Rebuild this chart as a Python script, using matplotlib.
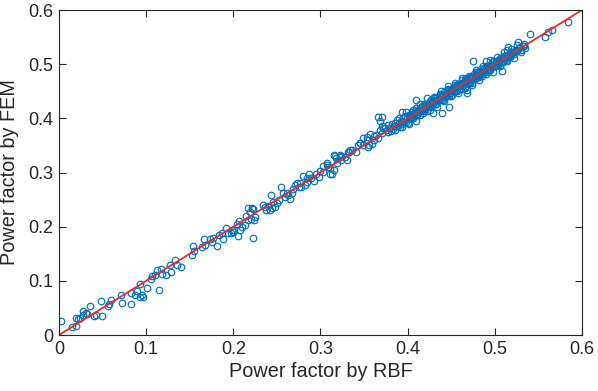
import matplotlib
matplotlib.use("Agg")
import matplotlib.pyplot as plt
import numpy as np

# power factor pairs (RBF estimate, FEM result)
rbf_low = [0.002, 0.0145, 0.0195, 0.0195, 0.022, 0.024, 0.028, 0.028, 0.031, 0.032,
           0.035, 0.040, 0.042, 0.048, 0.049, 0.056, 0.057, 0.060, 0.071, 0.072,
           0.083, 0.083, 0.087, 0.089, 0.093, 0.093, 0.095, 0.096, 0.101, 0.106,
           0.107, 0.110, 0.112, 0.117, 0.118, 0.115]
fem_low = [0.025, 0.015, 0.016, 0.031, 0.029, 0.031, 0.045, 0.037, 0.040, 0.039,
           0.054, 0.035, 0.037, 0.063, 0.036, 0.054, 0.057, 0.065, 0.074, 0.060,
           0.058, 0.077, 0.074, 0.082, 0.094, 0.071, 0.073, 0.070, 0.087, 0.103,
           0.109, 0.111, 0.120, 0.121, 0.113, 0.084]

rbf_mid = [0.123, 0.127, 0.129, 0.133, 0.135, 0.140, 0.152, 0.154, 0.155, 0.164,
           0.166, 0.168, 0.173, 0.175, 0.177, 0.181, 0.183, 0.187, 0.188, 0.192,
           0.194, 0.197, 0.201, 0.204, 0.205, 0.206, 0.208, 0.215, 0.217, 0.219,
           0.198, 0.200, 0.210, 0.213, 0.217, 0.220, 0.221, 0.222, 0.224, 0.225,
           0.223, 0.234, 0.236, 0.237, 0.240, 0.242, 0.244, 0.246, 0.248, 0.250,
           0.243, 0.252, 0.255, 0.257, 0.259, 0.261, 0.263, 0.265, 0.267, 0.269,
           0.271, 0.273, 0.275, 0.277, 0.278, 0.280, 0.282, 0.284, 0.285, 0.287,
           0.289, 0.292, 0.295, 0.298, 0.300, 0.303, 0.307, 0.311, 0.313, 0.315,
           0.319, 0.322, 0.303, 0.309, 0.311, 0.307]
fem_mid = [0.111, 0.129, 0.117, 0.138, 0.129, 0.126, 0.148, 0.164, 0.155, 0.163,
           0.178, 0.166, 0.178, 0.172, 0.180, 0.164, 0.185, 0.188, 0.178, 0.197,
           0.189, 0.188, 0.194, 0.205, 0.183, 0.211, 0.194, 0.220, 0.212, 0.228,
           0.194, 0.191, 0.199, 0.203, 0.234, 0.215, 0.234, 0.232, 0.212, 0.218,
           0.180, 0.240, 0.237, 0.231, 0.238, 0.231, 0.234, 0.246, 0.236, 0.243,
           0.258, 0.250, 0.273, 0.262, 0.255, 0.262, 0.258, 0.252, 0.262, 0.269,
           0.277, 0.281, 0.273, 0.280, 0.274, 0.294, 0.277, 0.290, 0.283, 0.297,
           0.289, 0.285, 0.298, 0.292, 0.303, 0.312, 0.314, 0.308, 0.298, 0.305,
           0.317, 0.329, 0.301, 0.311, 0.298, 0.317]

rbf_upper = [0.315, 0.318, 0.322, 0.324, 0.328, 0.330, 0.332, 0.333, 0.336, 0.341,
             0.343, 0.345, 0.349, 0.349, 0.353, 0.353, 0.355, 0.356, 0.357, 0.359,
             0.361, 0.361, 0.364, 0.366, 0.366, 0.368, 0.368, 0.370, 0.370, 0.372,
             0.374, 0.376, 0.378, 0.378, 0.317, 0.324, 0.334, 0.345, 0.370]
fem_upper = [0.332, 0.326, 0.332, 0.323, 0.329, 0.323, 0.338, 0.338, 0.342, 0.338,
             0.351, 0.354, 0.351, 0.363, 0.366, 0.360, 0.348, 0.351, 0.372, 0.353,
             0.360, 0.367, 0.369, 0.363, 0.403, 0.396, 0.378, 0.385, 0.373, 0.382,
             0.382, 0.378, 0.388, 0.375, 0.330, 0.330, 0.342, 0.355, 0.403]

rbf_dense = [0.380, 0.381, 0.382, 0.383, 0.384, 0.385, 0.386, 0.387, 0.388, 0.389,
             0.390, 0.391, 0.392, 0.393, 0.394, 0.395, 0.396, 0.397, 0.398, 0.399,
             0.400, 0.401, 0.402, 0.403, 0.404, 0.405, 0.406, 0.407, 0.408, 0.409,
             0.410, 0.411, 0.412, 0.413, 0.414, 0.415, 0.416, 0.417, 0.418, 0.419,
             0.420, 0.421, 0.422, 0.423, 0.424, 0.425, 0.426, 0.427, 0.428, 0.429,
             0.430, 0.431, 0.432, 0.433, 0.434, 0.435, 0.436, 0.437, 0.438, 0.439,
             0.440, 0.441, 0.442, 0.443, 0.444, 0.445, 0.446, 0.447, 0.448, 0.449,
             0.450, 0.451, 0.452, 0.453, 0.454, 0.455, 0.456, 0.457, 0.458, 0.459,
             0.460, 0.461, 0.462, 0.463, 0.464, 0.465, 0.466, 0.467, 0.468, 0.469,
             0.470, 0.471, 0.472, 0.473, 0.474, 0.475, 0.476, 0.477, 0.478, 0.479,
             0.480, 0.481, 0.482, 0.483, 0.484, 0.485, 0.486, 0.487, 0.488, 0.489,
             0.490, 0.491, 0.492, 0.493, 0.494, 0.495, 0.496, 0.497, 0.498, 0.499,
             0.500, 0.501, 0.502, 0.503, 0.504, 0.505, 0.506, 0.507, 0.508, 0.509,
             0.510, 0.511, 0.512, 0.513, 0.514, 0.515, 0.516, 0.517, 0.518, 0.519,
             0.520, 0.522, 0.524, 0.526, 0.528, 0.530, 0.532, 0.534]
fem_dense = [0.383, 0.377, 0.389, 0.381, 0.385, 0.379, 0.391, 0.386, 0.397, 0.386,
             0.392, 0.384, 0.396, 0.393, 0.389, 0.401, 0.394, 0.405, 0.394, 0.400,
             0.392, 0.404, 0.407, 0.400, 0.403, 0.412, 0.400, 0.409, 0.412, 0.407,
             0.420, 0.406, 0.412, 0.416, 0.407, 0.421, 0.415, 0.419, 0.414, 0.427,
             0.417, 0.426, 0.413, 0.424, 0.428, 0.423, 0.432, 0.422, 0.431, 0.428,
             0.437, 0.427, 0.434, 0.427, 0.439, 0.435, 0.433, 0.445, 0.436, 0.443,
             0.433, 0.442, 0.448, 0.439, 0.447, 0.444, 0.455, 0.442, 0.450, 0.446,
             0.455, 0.443, 0.456, 0.453, 0.461, 0.453, 0.451, 0.460, 0.464, 0.455,
             0.461, 0.455, 0.470, 0.462, 0.466, 0.462, 0.471, 0.460, 0.472, 0.470,
             0.468, 0.477, 0.468, 0.476, 0.465, 0.477, 0.481, 0.476, 0.485, 0.476,
             0.480, 0.485, 0.476, 0.486, 0.492, 0.483, 0.482, 0.488, 0.493, 0.486,
             0.496, 0.490, 0.485, 0.495, 0.498, 0.490, 0.499, 0.497, 0.505, 0.497,
             0.496, 0.506, 0.501, 0.506, 0.498, 0.507, 0.512, 0.504, 0.509, 0.505,
             0.514, 0.509, 0.515, 0.508, 0.515, 0.514, 0.518, 0.514, 0.522, 0.517,
             0.521, 0.518, 0.527, 0.524, 0.529, 0.527, 0.534, 0.533]

rbf_dense2 = [0.401, 0.403, 0.405, 0.407, 0.409, 0.411, 0.413, 0.415, 0.417, 0.419,
              0.421, 0.423, 0.425, 0.427, 0.429, 0.431, 0.433, 0.435, 0.437, 0.439,
              0.441, 0.443, 0.445, 0.447, 0.449, 0.451, 0.453, 0.455, 0.457, 0.459,
              0.461, 0.463, 0.465, 0.467, 0.469, 0.471, 0.473, 0.475, 0.477, 0.479,
              0.481, 0.483, 0.485, 0.487, 0.489, 0.491, 0.493, 0.495, 0.497, 0.499,
              0.501, 0.503, 0.505, 0.507, 0.509, 0.511, 0.513, 0.515, 0.517, 0.519,
              0.521]
fem_dense2 = [0.399, 0.407, 0.400, 0.408, 0.415, 0.408, 0.415, 0.414, 0.422, 0.413,
              0.424, 0.423, 0.421, 0.434, 0.427, 0.432, 0.437, 0.432, 0.443, 0.434,
              0.443, 0.442, 0.453, 0.443, 0.452, 0.451, 0.451, 0.460, 0.451, 0.460,
              0.465, 0.460, 0.467, 0.474, 0.468, 0.466, 0.476, 0.476, 0.473, 0.485,
              0.479, 0.485, 0.478, 0.491, 0.489, 0.496, 0.490, 0.496, 0.496, 0.505,
              0.497, 0.506, 0.503, 0.509, 0.504, 0.515, 0.513, 0.512, 0.520, 0.518,
              0.523]

# wider spread around the dense band
rbf_spread = [0.390, 0.394, 0.398, 0.402, 0.406, 0.410, 0.414, 0.418, 0.422, 0.426,
              0.430, 0.434, 0.438, 0.442, 0.446, 0.450, 0.454, 0.458, 0.462, 0.466,
              0.470, 0.474, 0.478, 0.482, 0.486, 0.490, 0.494, 0.498, 0.502, 0.506,
              0.510, 0.514, 0.518, 0.522, 0.526, 0.530]
fem_spread = [0.401, 0.384, 0.411, 0.390, 0.415, 0.396, 0.426, 0.409, 0.437, 0.415,
              0.440, 0.421, 0.450, 0.432, 0.460, 0.441, 0.465, 0.446, 0.475, 0.456,
              0.479, 0.461, 0.490, 0.471, 0.496, 0.481, 0.507, 0.486, 0.513, 0.496,
              0.522, 0.505, 0.528, 0.511, 0.535, 0.522]

# points sitting away from the band
rbf_out = [0.393, 0.410, 0.429, 0.439, 0.447, 0.468, 0.468, 0.475, 0.490, 0.508,
           0.514, 0.515, 0.527, 0.533, 0.529, 0.535, 0.540, 0.558, 0.561, 0.566,
           0.584]
fem_out = [0.412, 0.434, 0.409, 0.410, 0.421, 0.452, 0.446, 0.506, 0.506, 0.488,
           0.526, 0.531, 0.541, 0.537, 0.532, 0.529, 0.556, 0.550, 0.560, 0.563,
           0.578]

# y = x reference line
ref_line = [0.0, 0.6]

rbf = np.concatenate([rbf_low, rbf_mid, rbf_upper, rbf_dense, rbf_dense2,
                      rbf_spread, rbf_out])
fem = np.concatenate([fem_low, fem_mid, fem_upper, fem_dense, fem_dense2,
                      fem_spread, fem_out])

plt.rcParams['font.family'] = ['Liberation Sans', 'DejaVu Sans']
dark = '#262626'

fig = plt.figure(figsize=(5.98, 3.91), dpi=100)
ax = fig.add_axes([0.0987, 0.1432, 0.8745, 0.8312])

ax.plot(rbf, fem, 'o', markersize=4.7, markerfacecolor='none',
        markeredgecolor='#0072BD', markeredgewidth=0.85)
ax.plot(ref_line, ref_line, color='#F0282A', linewidth=1.3)

ax.set_xlim(0, 0.6)
ax.set_ylim(0, 0.6)
ticks = [0, 0.1, 0.2, 0.3, 0.4, 0.5, 0.6]
tick_labels = ['0', '0.1', '0.2', '0.3', '0.4', '0.5', '0.6']
ax.set_xticks(ticks)
ax.set_xticklabels(tick_labels)
ax.set_yticks(ticks)
ax.set_yticklabels(tick_labels)
ax.tick_params(direction='in', top=True, right=True, length=5, width=0.8,
               labelsize=13, colors=dark, pad=4)
for s in ax.spines.values():
    s.set_color(dark)
    s.set_linewidth(0.8)

ax.set_xlabel('Power factor by RBF', fontsize=14.3, color=dark, labelpad=3)
ax.set_ylabel('Power factor by FEM', fontsize=14.3, color=dark, labelpad=7)

fig.savefig('out.png', dpi=100)
